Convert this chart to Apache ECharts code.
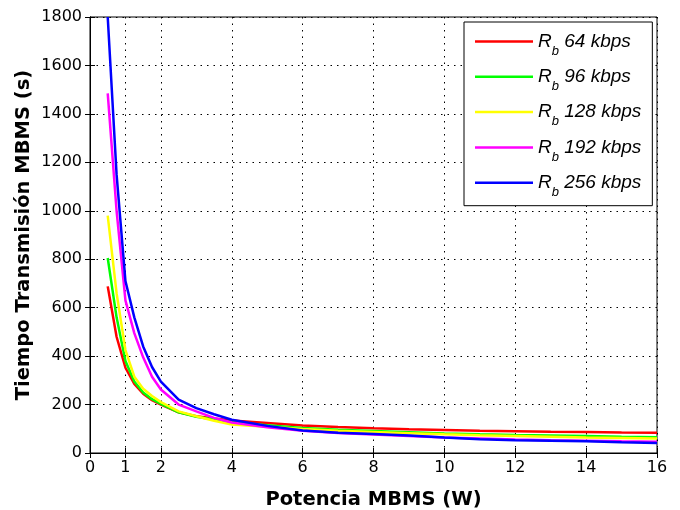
<!DOCTYPE html>
<html><head><meta charset="utf-8">
<script src="https://cdn.jsdelivr.net/npm/echarts@6/dist/echarts.min.js"></script>
<style>html,body{margin:0;padding:0;background:#fff}#c{width:680px;height:510px}</style>
</head><body><div id="c"></div>
<script>
const xValues = [0.5, 0.75, 1, 1.25, 1.5, 1.75, 2, 2.5, 3, 3.5, 4, 5, 6, 7, 8, 9, 10, 11, 12, 13, 14, 15, 16];
const rb64  = [688, 480, 352, 285, 245, 218, 200, 168, 152, 142, 134, 124, 114, 107, 102, 98, 95, 92, 90, 88, 87, 85, 84];
const rb96  = [805, 560, 380, 295, 250, 222, 203, 168, 150, 138, 127, 115, 103, 96, 91, 86, 81, 77, 74, 72, 70, 67, 65];
const rb128 = [980, 660, 425, 315, 265, 235, 210, 172, 152, 133, 118, 108, 99, 92, 87, 82, 77, 73, 70, 67, 64, 62, 60];
const rb192 = [1485, 1000, 630, 495, 395, 315, 262, 200, 172, 145, 126, 106, 92, 83, 76, 70, 64, 60, 56, 53, 51, 48, 46];
const rb256 = [1800, 1150, 710, 560, 440, 355, 295, 220, 185, 160, 137, 112, 93, 84, 78, 72, 64, 57, 53, 51, 48, 44, 41];
const rates = ['64', '96', '128', '192', '256'];
const colors = ['#ff0000', '#00ff00', '#ffff00', '#ff00ff', '#0000ff'];
const xTickValues = [0, 1, 2, 4, 6, 8, 10, 12, 14, 16];
const xTitle = 'Potencia MBMS (W)';
const yTitle = 'Tiempo Transmisión MBMS (s)';

const allSeries = [rb64, rb96, rb128, rb192, rb256];
const chart = echarts.init(document.getElementById('c'), null, {renderer: 'canvas'});
const dotted = {color: '#000', width: 1, type: [1.5, 5]};
const tick = {inside: true, length: 5, lineStyle: {color: '#000', width: 1}};
const tickFont = {fontFamily: 'DejaVu Sans', fontSize: 16, color: '#000'};
const titleFont = {fontFamily: 'DejaVu Sans', fontWeight: 'bold', fontSize: 19.5, color: '#000'};

chart.setOption({
  animation: false,
  backgroundColor: '#fff',
  grid: {left: 90, right: 23, top: 17, bottom: 57, outerBoundsMode: 'none', containLabel: false,
         show: true, borderColor: '#000', borderWidth: 1, backgroundColor: '#fff'},
  legend: {
    left: 464, top: 22, orient: 'vertical', icon: 'rect',
    backgroundColor: '#fff', borderColor: '#000', borderWidth: 1,
    padding: [10, 11, 7, 11], itemGap: 9.8, itemWidth: 58, itemHeight: 2.5,
    formatter: function (name) { return '{r|R}{s|b}{t| ' + name.split(' ')[1] + ' kbps}'; },
    textStyle: {
      fontFamily: 'Liberation Sans', fontStyle: 'italic', fontSize: 19, color: '#000',
      rich: {
        r: {fontFamily: 'Liberation Sans', fontStyle: 'italic', fontSize: 19, color: '#000', lineHeight: 24, verticalAlign: 'middle'},
        s: {fontFamily: 'Liberation Sans', fontStyle: 'italic', fontSize: 13, color: '#000', lineHeight: 32, verticalAlign: 'bottom'},
        t: {fontFamily: 'Liberation Sans', fontStyle: 'italic', fontSize: 19, color: '#000', lineHeight: 24, verticalAlign: 'middle'}
      }
    },
    data: rates.map(r => 'Rb ' + r)
  },
  xAxis: [
    {type: 'value', min: 0, max: 16, interval: 1, position: 'bottom',
     name: xTitle, nameLocation: 'middle', nameGap: 37, nameMoveOverlap: false, nameTextStyle: titleFont,
     axisLine: {show: true, lineStyle: {color: '#000'}},
     axisTick: Object.assign({customValues: xTickValues}, tick),
     axisLabel: Object.assign({customValues: xTickValues, margin: 7}, tickFont),
     splitLine: {show: true, lineStyle: dotted}},
    {type: 'value', min: 0, max: 16, interval: 1, position: 'top',
     axisLine: {show: true, lineStyle: {color: '#000'}},
     axisTick: Object.assign({customValues: xTickValues}, tick),
     axisLabel: {show: false}, splitLine: {show: false}}
  ],
  yAxis: [
    {type: 'value', min: 0, max: 1800, interval: 200, position: 'left',
     name: yTitle, nameLocation: 'middle', nameGap: 56, nameMoveOverlap: false, nameTextStyle: titleFont,
     axisLine: {show: true, lineStyle: {color: '#000'}},
     axisTick: tick,
     axisLabel: Object.assign({margin: 8, formatter: v => String(v)}, tickFont),
     splitLine: {show: true, lineStyle: dotted}},
    {type: 'value', min: 0, max: 1800, interval: 200, position: 'right',
     axisLine: {show: true, lineStyle: {color: '#000'}},
     axisTick: tick, axisLabel: {show: false}, splitLine: {show: false}}
  ],
  series: allSeries.map((vals, i) => ({
    name: 'Rb ' + rates[i], type: 'line', xAxisIndex: 0, yAxisIndex: 0,
    symbol: 'none', clip: true, color: colors[i],
    lineStyle: {color: colors[i], width: 2.5},
    data: xValues.map((x, j) => [x, vals[j]])
  }))
});
</script></body></html>
